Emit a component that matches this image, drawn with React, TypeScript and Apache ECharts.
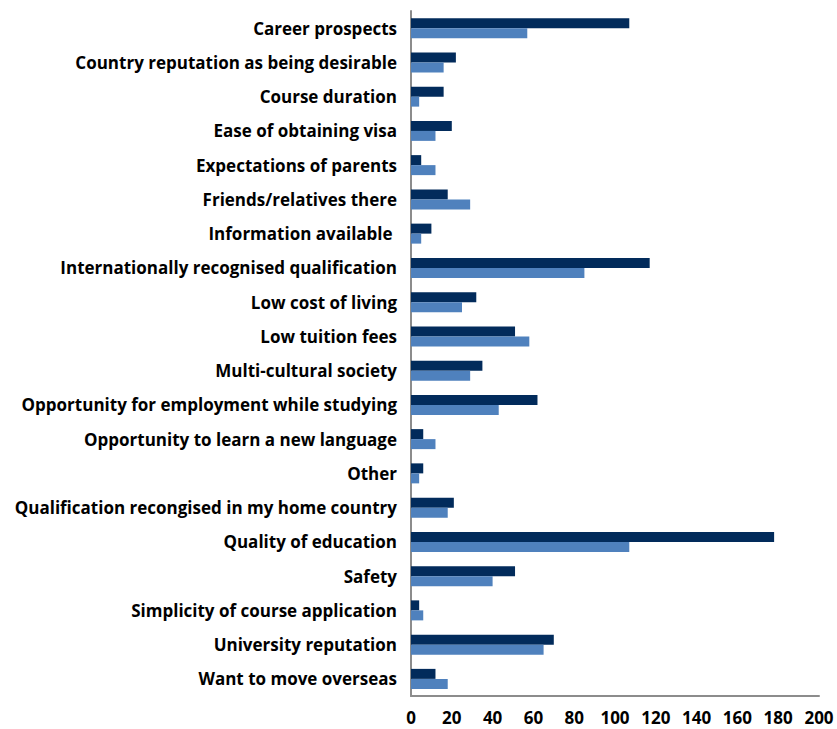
import React, { useEffect, useRef } from "react";
import * as echarts from "echarts";

const categories = [
  "Career prospects",
  "Country reputation as being desirable",
  "Course duration",
  "Ease of obtaining visa",
  "Expectations of parents",
  "Friends/relatives there",
  "Information available ",
  "Internationally recognised qualification",
  "Low cost of living",
  "Low tuition fees",
  "Multi-cultural society",
  "Opportunity for employment while studying",
  "Opportunity to learn a new language",
  "Other",
  "Qualification recongised in my home country",
  "Quality of education",
  "Safety",
  "Simplicity of course application",
  "University reputation",
  "Want to move overseas",
];

const seriesDark = [107, 22, 16, 20, 5, 18, 10, 117, 32, 51, 35, 62, 6, 6, 21, 178, 51, 4, 70, 12];
const seriesLight = [57, 16, 4, 12, 12, 29, 5, 85, 25, 58, 29, 43, 12, 4, 18, 107, 40, 6, 65, 18];

const xTicks = { min: 0, max: 200, interval: 20 };

export default function App() {
  const ref = useRef<HTMLDivElement>(null);
  useEffect(() => {
    if (!ref.current) return;
    const chart = echarts.init(ref.current, null, { renderer: "svg" });
    const font = "'Open Sans', sans-serif";
    chart.setOption({
      animation: false,
      backgroundColor: "#ffffff",
      grid: { left: 411, right: 18, top: 11, bottom: 33, containLabel: false },
      xAxis: {
        type: "value",
        min: xTicks.min,
        max: xTicks.max,
        interval: xTicks.interval,
        splitLine: { show: false },
        axisLine: { show: true, lineStyle: { color: "#8c8c8c", width: 2 } },
        axisTick: { show: false },
        axisLabel: {
          color: "#000",
          fontSize: 17,
          fontWeight: "bold",
          fontFamily: font,
          margin: 13,
        },
      },
      yAxis: {
        type: "category",
        inverse: true,
        data: categories,
        axisLine: { show: true, lineStyle: { color: "#8c8c8c", width: 2 } },
        axisTick: { show: false },
        axisLabel: {
          color: "#000",
          fontSize: 17,
          fontWeight: "bold",
          fontFamily: font,
          margin: 14,
        },
      },
      series: [
        {
          type: "bar",
          data: seriesDark,
          barWidth: 10,
          barGap: "0%",
          itemStyle: { color: "#022b5b" },
        },
        {
          type: "bar",
          data: seriesLight,
          barWidth: 10,
          barGap: "0%",
          itemStyle: { color: "#4f81bd" },
        },
      ],
    });
    return () => chart.dispose();
  }, []);
  return (
    <div
      ref={ref}
      style={{ position: "fixed", left: 0, top: 0, width: 837, height: 729 }}
    />
  );
}
